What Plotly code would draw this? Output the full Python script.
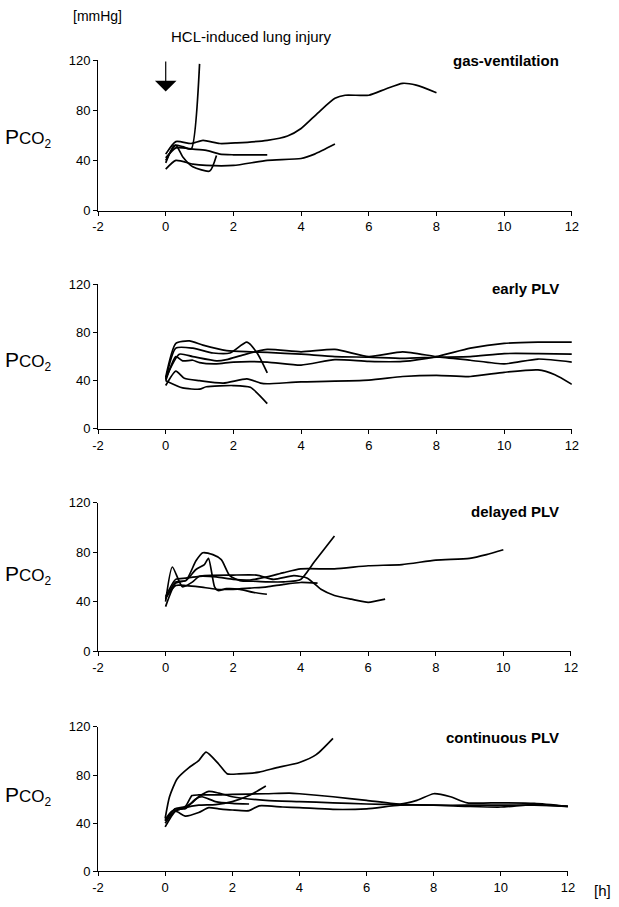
import plotly.graph_objects as go
from plotly.subplots import make_subplots

# PCO2 [mmHg] over time [h], one list per animal
gas_t = [
    [0, 0.3, 0.75, 1.1, 1.6, 2.1, 3.0, 3.6, 4.0, 4.5, 5.0, 5.3, 6.0, 6.5, 7.0, 7.4, 8.0],
    [0, 0.25, 0.5, 0.75, 1.0],
    [0, 0.3, 0.8, 1.2, 1.6, 2.0, 3.0],
    [0, 0.3, 0.5, 0.8, 1.3, 1.5],
    [0, 0.3, 0.8, 1.2, 2.0, 3.0, 4.0, 4.4, 5.0],
]
gas_p = [
    [45, 55, 53.5, 56, 53.5, 54, 56, 59.5, 65.5, 78, 89.5, 92, 92, 97, 101.5, 100, 94],
    [38, 52, 51, 49, 117],
    [42, 50, 49, 48, 45, 44.5, 44.5],
    [40, 52, 43, 35, 31.5, 44],
    [33, 40, 37, 36, 36, 40, 41.5, 45, 53],
]

early_t = [
    [0, 0.3, 0.5, 0.8, 1.0, 1.5, 2.0, 3.0, 4.0, 5.0, 6.0, 7.0, 8.0, 9.0, 10.0, 11.0, 12.0],
    [0, 0.3, 0.7, 1.1, 1.8, 2.5, 3, 4, 5, 6, 7, 8, 9, 10, 11, 12],
    [0, 0.4, 0.8, 1.5, 1.8, 2.3, 3, 4, 5, 6, 7, 8, 9, 10, 11, 12],
    [0, 0.3, 0.55, 1.0, 1.7, 2.4, 2.8, 3.0, 4, 6, 7, 8, 9, 10, 11, 11.5, 12],
    [0, 0.5, 1.0, 1.2, 2.0, 2.5, 3.0],
    [0, 0.3, 0.8, 1.4, 1.9, 2.4, 2.7, 3.0],
]
early_p = [
    [40, 60, 56.5, 57, 55, 54, 55.5, 55.5, 53, 57.5, 56, 56, 60, 67, 71, 72, 72],
    [43, 71, 73, 69.5, 65, 64, 63.5, 62, 60, 59.5, 58.5, 59.5, 60, 62.5, 62.5, 62],
    [42, 62, 60, 56.5, 57.5, 61.5, 66, 64, 66, 60, 64, 60, 57, 54, 58, 55.5],
    [36, 48, 42, 40, 38, 41.5, 38, 37.5, 39, 40.5, 43.5, 44.5, 43.5, 47, 49, 45, 37],
    [40, 34, 33, 35, 36, 34.5, 21],
    [41, 67, 67, 63, 63, 72, 63, 46.5],
]

delayed_t = [
    [0, 0.3, 0.6, 1, 1.5, 2, 2.5, 3, 3.5, 4, 5, 6, 7, 8, 9, 9.5, 10],
    [0, 0.3, 0.6, 0.9, 1.1, 1.4, 1.65, 1.9, 2.2, 2.6, 3.0, 3.5, 4.0, 4.4, 5.0],
    [0, 0.2, 0.5, 0.8, 1.0, 2.0, 2.7, 3.2, 3.8, 4.2, 4.6, 5.0, 5.5, 6.0, 6.5],
    [0, 0.3, 0.6, 1.0, 1.5, 2.0, 2.5, 3.0, 3.5, 4.0, 4.5],
    [0, 0.3, 0.6, 0.9, 1.15, 1.27, 1.45, 1.55, 1.8, 2.2, 2.6, 3.0],
]
delayed_p = [
    [44, 58, 59, 60.5, 60, 58, 57.5, 60, 63.5, 66.5, 66.5, 69, 70, 73.5, 75, 78, 82],
    [42, 56, 57, 73, 79.5, 78, 74, 61, 57, 56.5, 56, 56, 58, 72, 93],
    [40, 68, 52, 56, 60.5, 61.5, 61.5, 58, 61, 59, 50, 45, 42, 39.5, 42],
    [43, 53, 53, 52, 50, 50, 51, 52, 54, 55.5, 55],
    [36, 55, 57, 66, 70, 75, 52, 49, 50.5, 50, 47.5, 46],
]

cont_t = [
    [0, 0.13, 0.36, 0.7, 1.0, 1.22, 1.6, 1.85, 2.2, 2.8, 3.3, 4.0, 4.5, 5.0],
    [0, 0.3, 0.6, 1.0, 1.5, 2.0, 2.5, 3.0],
    [0, 0.3, 0.6, 0.9, 1.1, 1.5, 2.0, 2.5],
    [0, 0.3, 0.6, 0.8, 1.0, 1.5, 2.0, 3.0, 3.7, 4.0, 5.0, 6.0, 7.0, 7.5, 8.0, 8.5, 9.0, 10, 11, 12],
    [0, 0.2, 0.5, 0.8, 1.0, 1.3, 1.6, 2.0, 3.0, 4.0, 5.0, 6.0, 7.0, 8.0, 9.0, 10, 11, 12],
    [0, 0.3, 0.6, 1.0, 1.3, 1.6, 2.0, 2.5, 2.8, 3.5, 4.0, 5.0, 6.0, 7.0, 8.0, 9.0, 10, 11, 12],
]
cont_p = [
    [44, 62, 77, 86, 92, 99, 89, 81, 81, 82.5, 86, 90.5, 97, 110.5],
    [37, 50, 53, 55, 55.5, 58, 63, 71],
    [42, 52, 52, 60, 62, 58, 56.5, 56],
    [42, 52, 54, 63, 63.5, 63.5, 64, 64.5, 65, 64.5, 62, 59, 56, 59, 64.5, 62, 57, 57, 56.5, 54],
    [43, 50, 52, 57, 62, 66.5, 65, 62, 59, 58, 57, 56, 55.5, 55, 55, 55, 55, 54],
    [40, 50, 46, 49, 53, 52, 51, 50.5, 54.5, 53.5, 53, 51.5, 52, 55, 55, 54, 53.5, 55.5, 54],
]

x_ticks = [-2, 0, 2, 4, 6, 8, 10, 12]
y_ticks = [0, 40, 80, 120]

panels = [
    ('gas-ventilation', gas_t, gas_p),
    ('early PLV', early_t, early_p),
    ('delayed PLV', delayed_t, delayed_p),
    ('continuous PLV', cont_t, cont_p),
]

W, H = 619, 907
FONT = 'Liberation Sans, Arial, sans-serif'

fig = make_subplots(rows=4, cols=1)

# plot areas in pixels: (top, bottom, left, right), title y, PCO2 label y
boxes = [(54, 207, 94, 578), (282, 429, 94, 578), (504, 655, 94, 577), (732, 879, 94, 574)]
title_y = [54, 286, 513, 743]
label_y = [133, 360, 578, 802]

for i, (name, ts, ps) in enumerate(panels):
    for t, p in zip(ts, ps):
        fig.add_trace(go.Scatter(
            x=t, y=p, mode='lines',
            line=dict(color='black', width=1.7, shape='spline', smoothing=0.6),
            showlegend=False, hoverinfo='skip'
        ), row=i + 1, col=1)
    top, bot, left, right = boxes[i]
    n = '' if i == 0 else str(i + 1)
    fig.layout['yaxis' + n].domain = [1 - bot / H, 1 - top / H]
    fig.layout['xaxis' + n].domain = [left / W, right / W]
    fig.add_annotation(x=567 / W, y=1 - title_y[i] / H, xref='paper', yref='paper',
                       text='<b>%s</b>' % name, showarrow=False,
                       xanchor='right', yanchor='middle',
                       font=dict(family=FONT, size=15, color='black'))
    fig.add_annotation(x=-3 / W, y=1 - label_y[i] / H, xref='paper', yref='paper',
                       text='P<span style="font-size:17px">CO<sub>2</sub></span>',
                       showarrow=False, xanchor='left', yanchor='middle',
                       font=dict(family=FONT, size=21, color='black'))

fig.update_xaxes(range=[-2, 12], tickvals=x_ticks, ticktext=[str(v) for v in x_ticks],
                 showline=True, linecolor='black', linewidth=1,
                 ticks='outside', ticklen=4, tickcolor='black', showgrid=False,
                 zeroline=False, tickfont=dict(family=FONT, size=13, color='black'))
fig.update_yaxes(range=[0, 120], tickvals=y_ticks, ticktext=[str(v) for v in y_ticks],
                 showline=True, linecolor='black', linewidth=1,
                 ticks='outside', ticklen=4, tickcolor='black', showgrid=False,
                 zeroline=False, tickfont=dict(family=FONT, size=13, color='black'))

# injury arrow
fig.add_annotation(x=0, y=95, ax=0, ay=120, xref='x', yref='y', axref='x', ayref='y',
                   text='', showarrow=True, arrowhead=1, arrowsize=3,
                   arrowwidth=1.2, arrowcolor='black')

fig.add_annotation(x=66 / W, y=1 - 9 / H, xref='paper', yref='paper', text='[mmHg]',
                   showarrow=False, xanchor='left', yanchor='middle',
                   font=dict(family=FONT, size=14, color='black'))
fig.add_annotation(x=166 / W, y=1 - 30 / H, xref='paper', yref='paper',
                   text='HCL-induced lung injury', showarrow=False,
                   xanchor='left', yanchor='middle',
                   font=dict(family=FONT, size=15, color='black'))
fig.add_annotation(x=599 / W, y=1 - 898 / H, xref='paper', yref='paper', text='[h]',
                   showarrow=False, xanchor='left', yanchor='middle',
                   font=dict(family=FONT, size=15, color='black'))

fig.update_layout(width=W, height=H, margin=dict(l=0, r=0, t=0, b=0),
                  paper_bgcolor='white', plot_bgcolor='white')

# drop the default page margin so the 619x907 figure fills the window exactly
fig.write_html('out.html', config={'displayModeBar': False},
               post_script="document.body.style.margin='0';document.body.style.overflow='hidden';")
